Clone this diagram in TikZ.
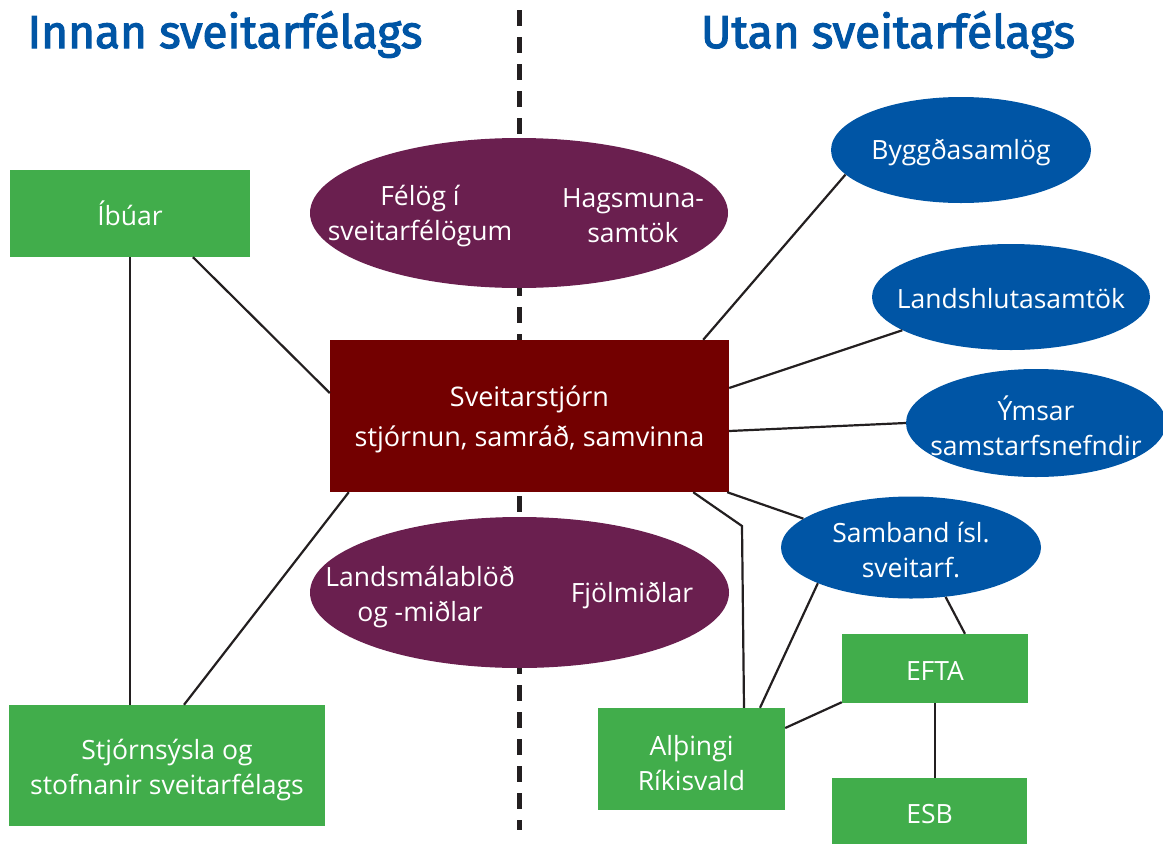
\documentclass[tikz,border=0pt]{standalone}
\usepackage{fontspec}
\setmainfont{Open Sans}
\newfontfamily\titlefont{Fira Sans}[FakeBold=2.5]
\usetikzlibrary{shapes.geometric}
\definecolor{grn}{HTML}{41AD4B}
\definecolor{dred}{HTML}{730000}
\definecolor{purp}{HTML}{6A1F4F}
\definecolor{blu}{HTML}{0055A5}
\definecolor{lin}{HTML}{231F20}
\tikzset{
  box/.style={rectangle, fill=grn, inner sep=0pt, text=white, align=center,
    font=\fontsize{26.5}{35}\selectfont},
  mainbox/.style={rectangle, fill=dred, inner sep=0pt, text=white, align=center,
    font=\fontsize{27}{40}\selectfont},
  pell/.style={ellipse, fill=purp, inner sep=0pt},
  bell/.style={ellipse, fill=blu, inner sep=0pt, text=white, align=center,
    font=\fontsize{26.5}{35}\selectfont},
  ptext/.style={text=white, align=center, inner sep=0pt, font=\fontsize{26.5}{35}\selectfont},
  title/.style={text=blu, inner sep=0pt, font=\titlefont\fontsize{46}{50}\selectfont},
  conn/.style={draw=lin, line width=2.2pt},
  divider/.style={draw=lin, line width=5pt, dash pattern=on 16pt off 11pt}
}
\begin{document}
\begin{tikzpicture}[x=1pt,y=-1pt]
\useasboundingbox (0,0) rectangle (1163,844);
% dividing line
\coordinate (dtop) at (519,10);
\coordinate (dbot) at (519,830);
\draw[divider] (dtop) -- (dbot);
% titles
\node[title, anchor=base] (tl) at (225,48) {Innan sveitarfélags};
\node[title, anchor=base] (tr) at (888,48) {Utan sveitarfélags};
% left
\node[box, minimum width=240pt, minimum height=87pt] (ibuar) at (130,213.5) {Íbúar};
\node[box, minimum width=316pt, minimum height=121pt] (stjorn) at (167,765.5) {};
\node[box] (stjornt) at (167,770) {Stjórnsýsla og\\stofnanir sveitarfélags};
% middle
\node[pell, minimum width=418pt, minimum height=150pt] (felog) at (519,213) {};
\node[ptext] (felogt) at (420,216) {Félög í\\sveitarfélögum};
\node[ptext] (hagst) at (633,216) {Hagsmuna-\\samtök};
\node[mainbox, minimum width=399pt, minimum height=152pt] (sv) at (529.5,416) {};
\node[mainbox] (svt) at (529.5,419) {Sveitarstjórn\\stjórnun, samráð, samvinna};
\node[pell, minimum width=419pt, minimum height=151pt] (lands) at (519.5,592.5) {};
\node[ptext] (landst) at (420,597) {Landsmálablöð\\og -miðlar};
\node[ptext] (fjolt) at (632,596) {Fjölmiðlar};
% right
\node[bell, minimum width=260pt, minimum height=106pt] (bygg) at (961,150) {};
\node[ptext] (byggt) at (961,153) {Byggðasamlög};
\node[bell, minimum width=278pt, minimum height=106pt] (lhs) at (1011,297) {};
\node[ptext] (lhst) at (1011,299) {Landshlutasamtök};
\node[bell, minimum width=260pt, minimum height=108pt] (ymsar) at (1036,423) {};
\node[ptext] (ymsart) at (1036,426) {Ýmsar\\samstarfsnefndir};
\node[bell, minimum width=260pt, minimum height=102pt] (samb) at (911,547.5) {};
\node[ptext] (sambt) at (911,550) {Samband ísl.\\sveitarf.};
\node[box, minimum width=186pt, minimum height=69pt] (efta) at (935,668.5) {};
\node[ptext] (eftat) at (935,671) {EFTA};
\node[box, minimum width=187pt, minimum height=102pt] (alth) at (691.5,759) {};
\node[ptext] (altht) at (691.5,763) {Alþingi\\Ríkisvald};
\node[box, minimum width=195pt, minimum height=66pt] (esb) at (929.5,811) {};
\node[ptext] (esbt) at (929.5,814) {ESB};
% connectors
\coordinate (bend) at (742,526);
\draw[conn] ([xshift=63pt]ibuar.south) -- ([yshift=23pt]sv.west);
\draw[conn] ([xshift=0pt]ibuar.south) -- ([xshift=-37pt]stjorn.north);
\draw[conn] ([xshift=19pt]sv.south west) -- ([xshift=17pt]stjorn.north);
\draw[conn] ([xshift=-26pt]sv.north east) -- (bygg.192);
\draw[conn] ([yshift=28pt]sv.east) -- (lhs.197);
\draw[conn] ([yshift=-15pt]sv.east) -- (ymsar.west);
\draw[conn] ([xshift=-2pt]sv.south east) -- (samb.165);
\draw[conn] ([xshift=-36pt]sv.south east) -- (bend) -- ([xshift=52.5pt]alth.north);
\draw[conn] (samb.201) -- ([xshift=68.5pt]alth.north);
\draw[conn] (samb.305) -- ([xshift=30pt]efta.north);
\draw[conn] ([yshift=1pt]efta.south west) -- ([yshift=31pt]alth.east);
\draw[conn] (efta.south) -- ([xshift=5.5pt]esb.north);
\end{tikzpicture}
\end{document}
